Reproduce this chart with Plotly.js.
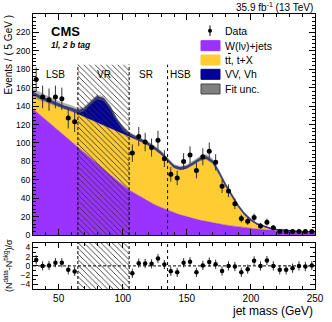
<!DOCTYPE html>
<html>
<head>
<meta charset="utf-8">
<script src="https://cdn.plot.ly/plotly-3.0.1.min.js"></script>
<style>
  html, body { margin: 0; padding: 0; background: white; }
  #chart { width: 332px; height: 322px; }
</style>
</head>
<body>
<div id="chart"></div>
<script>
// Jet mass fit, 1l 2 b tag category

// fit templates, evaluated every 5 GeV
const massGrid = [30, 35, 40, 45, 50, 55, 60, 65, 70, 75, 80, 85, 90, 95, 100, 105,
    110, 115, 120, 125, 130, 135, 140, 145, 150, 155, 160, 165, 170, 175, 180, 185,
    190, 195, 200, 205, 210, 215, 220, 225, 230, 235, 240, 245, 250];
const wjets = [137, 131, 125, 119, 113, 107, 101, 95, 89, 83, 77, 72, 66, 60, 54.5, 49,
    45, 41, 36.5, 33, 30, 27, 24.5, 22, 20, 18, 16.3, 15, 13.5, 12.3, 11, 10,
    9, 8.2, 7.4, 6.7, 6, 5.4, 4.9, 4.4, 4, 3.6, 3.3, 3.1, 2.9];
const ttbar = [15, 17, 20, 23, 26, 29.5, 33.5, 36, 39, 42, 45, 47, 50, 53, 55.5, 58,
    59, 59.5, 60.5, 59.5, 57, 52.5, 48, 48.5, 52, 58, 64.2, 67.5, 64.5, 54.2, 42.5, 32.3,
    22, 14, 8.5, 4.8, 2.9, 1.7, 0.9, 0.6, 0.4, 0.4, 0.4, 0.4, 0.5];
const diboson = [3, 3, 3, 3, 3, 3, 3, 4, 9, 19, 28, 29, 23, 13, 6, 3,
    2.5, 2.5, 2.5, 2.5, 2.5, 2.5, 2.5, 2.5, 2.5, 2.5, 2.5, 2.5, 2.5, 2, 1.5, 1.2,
    1, 0.8, 0.6, 0.5, 0.4, 0.3, 0.3, 0.2, 0.2, 0.2, 0.2, 0.2, 0.2];
const fitUnc = [5, 4.5, 4, 3.5, 3.5, 3.5, 3.5, 3, 2.5, 2.5, 2.5, 2.5, 2.5, 2.5, 2.5, 2,
    2, 2, 2, 2, 2, 2, 2, 2, 2, 2.5, 2.5, 3, 3, 3, 2.5, 2.5,
    2, 1.5, 1.2, 1, 0.8, 0.7, 0.6, 0.6, 0.6, 0.6, 0.6, 0.6, 0.6];

// data (VR is blinded)
const dataMass = [32.5, 37.5, 42.5, 47.5, 52.5, 57.5, 62.5,
    107.5, 112.5, 117.5, 122.5, 127.5, 132.5, 137.5, 142.5, 147.5, 152.5, 157.5,
    162.5, 167.5, 172.5, 177.5, 182.5, 187.5, 192.5, 197.5, 202.5, 207.5, 212.5,
    217.5, 222.5, 227.5, 232.5, 237.5, 242.5, 247.5];
const dataEvents = [169, 150, 147, 150, 148, 127, 123,
    89, 107, 101, 95, 103, 83, 66, 62, 80, 87, 70,
    85, 91, 79, 53, 48, 34, 18, 15, 19, 10, 14,
    8, 4, 4, 4, 4, 4, 4];
const pulls = [1.3, 0.0, 0.1, 0.7, 0.7, -0.85, -1.2,
    -1.6, 0.6, 0.5, 0.45, 1.6, 0.3, -1.15, -1.4, 0.7, 0.9, -1.4,
    0.1, 0.85, 0.35, -1.1, 0.0, -0.15, -1.4, -0.7, 1.1, 0.0, 1.15,
    0.0, -0.85, -0.85, -0.5, 0.0, -0.15, 0.1];

// region boundaries
const vrRange = [65, 105];
const srEnd = 135;
const hatchTop = 185;
const regionLabels = ['LSB', 'VR', 'SR', 'HSB'];
const regionLabelX = [47.5, 85, 118.5, 145];

const colors = {
    wjets: '#9a33ff',
    ttbar: '#ffcc33',
    vv: '#000099',
    unc: '#808080'
};

// stack
const stack1 = wjets;
const stack2 = wjets.map((v, i) => v + ttbar[i]);
const stack3 = stack2.map((v, i) => v + diboson[i]);
const uncLow = stack3.map((v, i) => v - fitUnc[i]);
const uncHigh = stack3.map((v, i) => v + fitUnc[i]);

const main = { xaxis: 'x2', yaxis: 'y2', hoverinfo: 'skip', showlegend: false };
const vrBoxX = [vrRange[0], vrRange[1], vrRange[1], vrRange[0], vrRange[0]];
const hatch = { shape: '\\', fgcolor: '#333333', size: 4, solidity: 0.22 };

const traces = [
    { ...main, x: massGrid, y: stack1, type: 'scatter', mode: 'lines', fill: 'tozeroy',
      fillcolor: colors.wjets, line: { color: colors.wjets, width: 0.5 } },
    { ...main, x: massGrid, y: stack2, type: 'scatter', mode: 'lines', fill: 'tonexty',
      fillcolor: colors.ttbar, line: { color: colors.ttbar, width: 0.5 } },
    { ...main, x: massGrid, y: stack3, type: 'scatter', mode: 'lines', fill: 'tonexty',
      fillcolor: colors.vv, line: { color: colors.vv, width: 1.5 } },
    { ...main, x: massGrid, y: uncLow, type: 'scatter', mode: 'lines',
      line: { width: 0 } },
    { ...main, x: massGrid, y: uncHigh, type: 'scatter', mode: 'lines', fill: 'tonexty',
      fillcolor: 'rgba(110,110,110,0.55)', line: { width: 0 } },
    // blinded validation region
    { ...main, x: vrBoxX, y: [0, 0, hatchTop, hatchTop, 0], type: 'scatter', mode: 'none',
      fill: 'toself', fillcolor: 'rgba(0,0,0,0)', fillpattern: hatch },
    { ...main, x: dataMass, y: dataEvents, type: 'scatter', mode: 'markers',
      marker: { color: 'black', size: 5 },
      error_y: { type: 'data', array: dataEvents.map(v => Math.sqrt(v)), color: '#333',
                 thickness: 1, width: 0 } },
    // pull panel
    { x: vrBoxX, y: [-5, -5, 5, 5, -5], type: 'scatter', mode: 'none', fill: 'toself',
      fillcolor: 'rgba(0,0,0,0)', fillpattern: hatch, hoverinfo: 'skip', showlegend: false },
    { x: dataMass, y: pulls, type: 'scatter', mode: 'markers', showlegend: false,
      marker: { color: 'black', size: 4.5 },
      error_y: { type: 'data', array: pulls.map(() => 1), color: '#333', thickness: 1, width: 0 } }
];

const font = { family: 'Liberation Sans, Arial, sans-serif', color: 'black' };

const axisStyle = {
    showline: true, linecolor: 'black', linewidth: 1, mirror: 'ticks',
    ticks: 'inside', tickcolor: 'black', showgrid: false, zeroline: false
};

// plot-area pixel -> paper helpers for legend/labels
const px = x => (x - 33) / 282;
const py = y => (289 - y) / 275;

const legendRows = [
    { label: 'W(lν)+jets', color: colors.wjets, border: colors.wjets, y: 45.7 },
    { label: 't<span style="text-decoration:overline">t</span>, t+X', color: colors.ttbar, border: colors.ttbar, y: 60 },
    { label: 'VV, Vh', color: colors.vv, border: colors.vv, y: 74.3 },
    { label: 'Fit unc.', color: colors.unc, border: '#444', y: 89 }
];

const shapes = [];
const annotations = [];
const fineDash = '3px,2px';

// region separators, main panel and pull panel
[vrRange[0], vrRange[1]].forEach(x => {
    shapes.push({ type: 'line', xref: 'x2', yref: 'y2', x0: x, x1: x, y0: 0, y1: hatchTop,
                  line: { color: 'black', width: 1, dash: fineDash } });
    shapes.push({ type: 'line', xref: 'x', yref: 'y', x0: x, x1: x, y0: -5, y1: 5,
                  line: { color: 'black', width: 1, dash: fineDash } });
});
shapes.push({ type: 'line', xref: 'x2', yref: 'y2', x0: srEnd, x1: srEnd, y0: 0, y1: hatchTop,
              line: { color: 'black', width: 1, dash: 'dot' } });
shapes.push({ type: 'line', xref: 'x', yref: 'y', x0: srEnd, x1: srEnd, y0: -5, y1: 5,
              line: { color: 'black', width: 1, dash: 'dot' } });
shapes.push({ type: 'line', xref: 'x', yref: 'y', x0: 30, x1: 250, y0: 0, y1: 0,
              line: { color: 'black', width: 1, dash: fineDash } });

regionLabels.forEach((t, i) => {
    annotations.push({ xref: 'x2', yref: 'y2', x: regionLabelX[i], y: 174, text: t,
                       showarrow: false, font: { ...font, size: 10 } });
});

// legend
legendRows.forEach(r => {
    shapes.push({ type: 'rect', xref: 'paper', yref: 'paper', x0: px(201), x1: px(220),
                  y0: py(r.y + 5), y1: py(r.y - 5), fillcolor: r.color,
                  line: { color: r.border, width: 1 } });
    annotations.push({ xref: 'paper', yref: 'paper', x: px(223), y: py(r.y), text: r.label,
                       xanchor: 'left', yanchor: 'middle', showarrow: false,
                       font: { ...font, size: 10.5 } });
});
shapes.push({ type: 'line', xref: 'paper', yref: 'paper', x0: px(210), x1: px(210),
              y0: py(36), y1: py(25.5), line: { color: 'black', width: 1 } });
shapes.push({ type: 'circle', xref: 'paper', yref: 'paper', x0: px(208), x1: px(212),
              y0: py(32.7), y1: py(28.7), fillcolor: 'black', line: { color: 'black', width: 0 } });
annotations.push({ xref: 'paper', yref: 'paper', x: px(223), y: py(30.7), text: 'Data',
                   xanchor: 'left', yanchor: 'middle', showarrow: false,
                   font: { ...font, size: 10.5 } });

// labels
annotations.push(
    { xref: 'paper', yref: 'paper', x: 1, y: 1, xanchor: 'right', yanchor: 'bottom',
      text: '35.9 fb<sup>-1</sup> (13 TeV)', showarrow: false, yshift: -1,
      font: { ...font, size: 10 } },
    { xref: 'paper', yref: 'paper', x: px(49), y: py(32), xanchor: 'left', yanchor: 'middle',
      text: '<b>CMS</b>', showarrow: false, font: { ...font, size: 13 } },
    { xref: 'paper', yref: 'paper', x: px(49), y: py(45.5), xanchor: 'left', yanchor: 'middle',
      text: '<b><i>1l, 2 b tag</i></b>', showarrow: false, font: { ...font, size: 8.5 } },
    { xref: 'paper', yref: 'paper', x: 1, y: py(311), xanchor: 'right', yanchor: 'middle',
      text: 'jet mass (GeV)', showarrow: false, font: { ...font, size: 12 } },
    { xref: 'paper', yref: 'paper', x: px(8), y: 1, xanchor: 'center', yanchor: 'top',
      textangle: -90, text: 'Events / ( 5 GeV )', showarrow: false,
      font: { ...font, size: 10 } },
    { xref: 'paper', yref: 'paper', x: px(8), y: py(266), xanchor: 'center', yanchor: 'middle',
      textangle: -90, text: '(N<sup>data</sup>-N<sup>bkg</sup>)/σ', showarrow: false,
      font: { ...font, size: 9 } }
);

const layout = {
    width: 332, height: 322,
    margin: { l: 33, r: 17, t: 14, b: 33 },
    paper_bgcolor: 'white', plot_bgcolor: 'white',
    font: font,
    showlegend: false,
    xaxis: { ...axisStyle, anchor: 'y', range: [30, 250], tickvals: [50, 100, 150, 200, 250],
             ticklen: 5, minor: { dtick: 10, ticklen: 3, ticks: 'inside', tickcolor: 'black' },
             tickfont: { ...font, size: 10 } },
    xaxis2: { ...axisStyle, anchor: 'y2', matches: 'x', range: [30, 250],
              tickvals: [50, 100, 150, 200, 250], showticklabels: false, ticklen: 6,
              minor: { dtick: 10, ticklen: 3, ticks: 'inside', tickcolor: 'black' } },
    yaxis: { ...axisStyle, anchor: 'x', domain: [0, 0.168], range: [-5, 5],
             tickvals: [-4, -2, 0, 2, 4], ticklen: 5,
             minor: { dtick: 1, ticklen: 2.5, ticks: 'inside', tickcolor: 'black' },
             tickfont: { ...font, size: 8.5 } },
    yaxis2: { ...axisStyle, anchor: 'x2', domain: [0.196, 1], range: [0, 240],
              tickvals: [0, 20, 40, 60, 80, 100, 120, 140, 160, 180, 200, 220], ticklen: 6,
              minor: { dtick: 4, ticklen: 3, ticks: 'inside', tickcolor: 'black' },
              tickfont: { ...font, size: 8.5 } },
    shapes: shapes,
    annotations: annotations
};

Plotly.newPlot('chart', traces, layout, { staticPlot: true, displayModeBar: false });
</script>
</body>
</html>
